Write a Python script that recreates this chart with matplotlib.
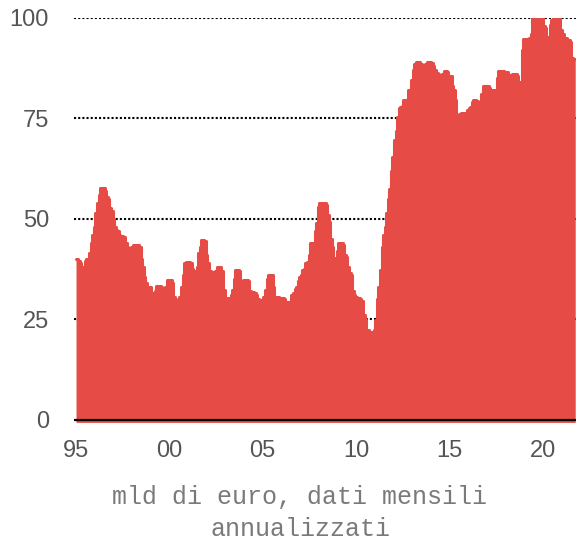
import matplotlib
matplotlib.use("Agg")
import matplotlib.pyplot as plt
import numpy as np

# Monthly values, Jan 1995 onwards (mld di euro, annualised)
values = [
    40, 40, 39.5, 39, 38, 37.8, 39.5, 40, 40, 41.5, 44, 46,            # 1995
    48, 51.5, 54, 56, 57.7, 57.7, 57.7, 57, 55.5, 55, 52.7, 52,         # 1996
    50, 48, 47.3, 47, 46, 45.8, 45.8, 45.5, 44, 43, 41, 41,             # 1997
    43, 43.5, 43.5, 43.5, 43.5, 43, 40, 38, 35.6, 34, 33, 33,           # 1998
    33, 31.5, 31, 32, 33.3, 33.3, 33.3, 33, 31.5, 31, 33, 34.8,         # 1999
    34.8, 34.8, 34, 30.6, 30, 28.6, 29.5, 30.6, 33, 36, 39, 39.3,       # 2000
    39.3, 39.3, 39, 37.5, 37, 35.3, 38, 41.5, 43, 44.8, 44.8, 44.5,     # 2001
    41, 39, 37, 36.8, 36.8, 36.8, 37, 38, 38, 38, 37, 32.3,             # 2002
    30.3, 30.3, 30.3, 30.3, 31, 32.3, 35, 37.3, 37.3, 37, 33, 32.3,     # 2003
    34.8, 34.8, 34.8, 34.5, 32, 31.8, 31.8, 31.5, 31, 30, 29.9, 29.9,   # 2004
    29.3, 30.5, 32.3, 35, 36, 36, 36, 33, 30.6, 30.6, 30.6, 30.4,       # 2005
    30.4, 30.3, 30, 29.3, 29.3, 29.3, 29, 31, 31.6, 32.5, 33, 34.5,     # 2006
    35.6, 36, 37.3, 37.5, 39, 39.3, 41, 44, 44, 44, 47, 49,             # 2007
    53, 54, 54, 54, 54, 53.5, 51, 49.3, 45, 43, 40.3, 40.3,             # 2008
    42, 44, 44, 44, 43.5, 41, 40.5, 38, 36.6, 36, 32, 31,               # 2009
    30.5, 30.3, 30.3, 30, 29.5, 26, 24.9, 22.4, 22.4, 22, 19, 22,       # 2010
    22.5, 24.9, 30, 33, 37.3, 43, 46, 48, 51.5, 55, 57.5, 62,           # 2011
    65.4, 69.7, 72, 75.4, 77.5, 77.9, 78, 79.6, 79.6, 79.6, 82, 82,     # 2012
    84.6, 87, 88.5, 89, 89, 89, 88.5, 87.8, 87.8, 88.5, 89, 89,         # 2013
    89, 88.8, 88, 87, 86.3, 86, 85, 84, 86, 86.8, 86.8, 86.5,           # 2014
    85.5, 85.5, 83, 82, 79.6, 74, 74, 76, 76.4, 76.4, 76.4, 76.4,       # 2015
    77.1, 77.5, 77.9, 79, 79.6, 79.6, 79.3, 78.4, 78, 81, 83, 83,       # 2016
    83, 83, 82.5, 80.8, 82, 82, 82, 85, 86.8, 86.8, 86.8, 86.8,         # 2017
    86.5, 86.5, 85.8, 85.8, 85.8, 86, 86, 86, 85.5, 84, 84, 92,         # 2018
    94.8, 94.8, 94.8, 94.8, 95, 96, 101, 102, 103, 103, 103, 102,       # 2019
    100.5, 98, 97.5, 95.3, 85, 98.3, 99.5, 101, 102, 102, 101.5, 100.5, # 2020
    97, 96, 95, 95, 94.5, 94.5, 94, 90, 89.8, 89.8,                     # 2021
]
start_year = 1995
tick_years = [1995, 2000, 2005, 2010, 2015, 2020]
tick_labels = ["95", "00", "05", "10", "15", "20"]
y_ticks = [0, 25, 50, 75, 100]
y_labels = ["0", "25", "50", "75", "100"]
x_label = "mld di euro, dati mensili\nannualizzati"

red = "#e64c45"
tick_font = ["Liberation Sans", "DejaVu Sans"]

fig = plt.figure(figsize=(5.76, 5.42), dpi=100)
ax = fig.add_axes([74 / 576, 0.2192, 1 - 74 / 576, 0.7476])

m = np.arange(len(values))
vals = np.array(values, dtype=float)
base = -0.6
ax.fill_between(m, base, vals, step="mid", color=red, lw=0, zorder=2)
ax.plot(m, vals, drawstyle="steps-mid", color=red, lw=2.2,
        solid_joinstyle="round", solid_capstyle="round", zorder=2)

for yv in y_ticks[1:]:
    ax.axhline(yv, color="black", lw=1.5, ls=(0, (1, 1)), zorder=1)
ax.axhline(0, color="black", lw=1.6, zorder=3)

ax.set_ylim(-0.8, 100)
ax.set_xlim(-1.3, 321.5)

ax.set_yticks(y_ticks)
ax.set_yticklabels(y_labels, family=tick_font, fontsize=17, color="#555555")
ax.set_xticks([(y - start_year) * 12 for y in tick_years])
ax.set_xticklabels(tick_labels, family=tick_font, fontsize=17, color="#555555")
ax.tick_params(axis="y", length=0, pad=18)
ax.tick_params(axis="x", length=0, pad=12)

for s in ax.spines.values():
    s.set_visible(False)

fig.text(300 / 576, 1 - 485 / 542, x_label, ha="center", va="top",
         family=["Liberation Mono", "DejaVu Sans Mono"], fontsize=18,
         color="#7a7a7a", linespacing=1.4)

fig.savefig("out.png", dpi=100)
